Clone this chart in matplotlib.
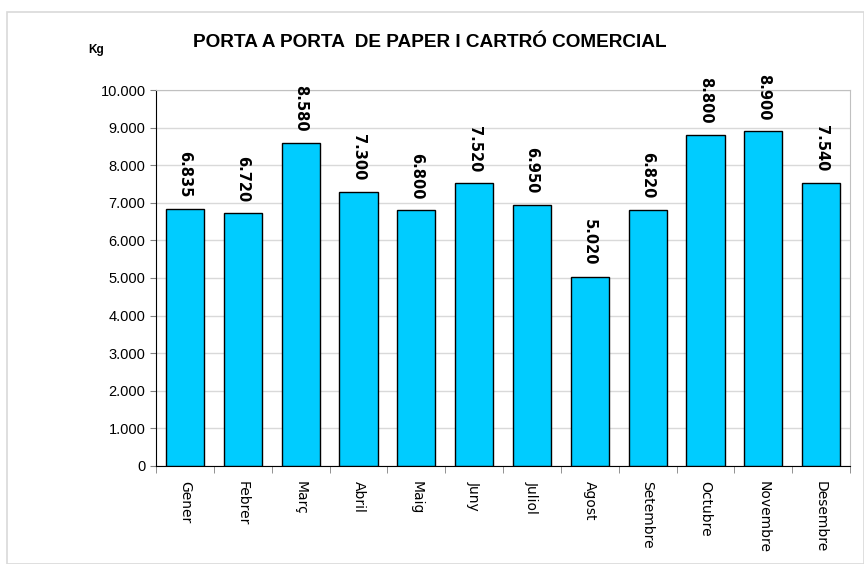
import matplotlib.pyplot as plt
from matplotlib.patches import Rectangle
from matplotlib.ticker import FuncFormatter

# dades mensuals (kg)
mesos = ["Gener", "Febrer", "Març", "Abril", "Maig", "Juny", "Juliol",
         "Agost", "Setembre", "Octubre", "Novembre", "Desembre"]
kg = [6835, 6720, 8580, 7300, 6800, 7520, 6950, 5020, 6820, 8800, 8900, 7540]
etiquetes = ["6.835", "6.720", "8.580", "7.300", "6.800", "7.520", "6.950",
             "5.020", "6.820", "8.800", "8.900", "7.540"]
yticks = [0, 1000, 2000, 3000, 4000, 5000, 6000, 7000, 8000, 9000, 10000]

fig = plt.figure(figsize=(8.64, 5.64), dpi=100)
ax = fig.add_axes([0.1806, 0.1738, 0.8032, 0.6666])

# marc exterior del grafic
fig.patches.append(Rectangle((0.008, 0.0), 0.992, 0.979, transform=fig.transFigure,
                             fill=False, edgecolor="#d9d9d9", linewidth=1.2))

x = list(range(len(mesos)))
ax.bar(x, kg, width=0.66, color="#00CCFF", edgecolor="black", linewidth=1.0, zorder=3)

for i, v in enumerate(kg):
    ax.text(i, v + 300, etiquetes[i], rotation=270, ha="center", va="bottom",
            fontsize=10.5, fontweight="bold", family="DejaVu Sans", zorder=4)

ax.set_xlim(-0.5, len(mesos) - 0.5)
ax.set_ylim(0, 10000)
ax.set_yticks(yticks)
ax.yaxis.set_major_formatter(FuncFormatter(lambda v, p: f"{int(v):,}".replace(",", ".")))
ax.grid(axis="y", color="#d9d9d9", linewidth=1.0, zorder=0)

ax.set_xticks(x)
ax.set_xticklabels(mesos, rotation=270, fontsize=10, family="DejaVu Sans")
ax.set_xticks([i - 0.5 for i in range(len(mesos) + 1)], minor=True)
ax.tick_params(axis="x", which="major", length=0, pad=11)
ax.tick_params(axis="x", which="minor", length=5, color="#808080")
ax.tick_params(axis="y", length=4, color="#808080", labelsize=10.5)
for lab in ax.get_yticklabels():
    lab.set_family("Liberation Sans")

ax.spines["left"].set_color("black")
ax.spines["bottom"].set_color("black")
ax.spines["top"].set_color("#c0c0c0")
ax.spines["right"].set_color("#c0c0c0")

fig.text(0.498, 0.925, "PORTA A PORTA  DE PAPER I CARTRÓ COMERCIAL", ha="center", va="center",
         fontsize=13.7, fontweight="bold", family="Liberation Sans")
fig.text(0.111, 0.911, "Kg", ha="center", va="center", fontsize=8.5, fontweight="bold",
         family="Liberation Sans")

fig.savefig("out.png", dpi=100)
